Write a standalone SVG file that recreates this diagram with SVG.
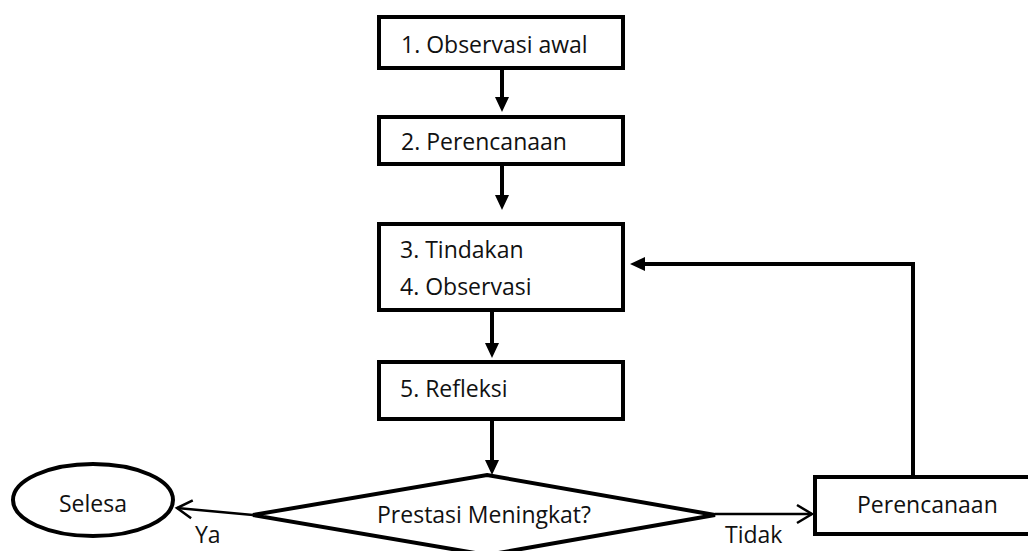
<svg xmlns="http://www.w3.org/2000/svg" width="1028" height="551" viewBox="0 0 1028 551">
<style>
.box{fill:#fff;stroke:#000;stroke-width:4}
.t{font-family:"Open Sans","Noto Sans",sans-serif;font-size:23px;fill:#111}
.c{fill:none;stroke:#000;stroke-width:4}
.o{fill:none;stroke:#000;stroke-width:2.5}
</style>
<defs>
<marker id="fa" markerUnits="userSpaceOnUse" viewBox="0 0 15 14" refX="0" refY="7" markerWidth="15" markerHeight="14" orient="auto">
<path d="M0,0 L15,7 L0,14 z" fill="#000"/>
</marker>
<marker id="oa" markerUnits="userSpaceOnUse" viewBox="-2 -2 20 22" refX="15" refY="9" markerWidth="20" markerHeight="22" orient="auto" overflow="visible">
<path d="M0,0 L15,9 L0,18" fill="none" stroke="#000" stroke-width="2.5"/>
</marker>
</defs>
<rect width="1028" height="551" fill="#fff"/>
<g id="connectors">
<line class="c" x1="502" y1="70" x2="502" y2="97" marker-end="url(#fa)"/>
<line class="c" x1="502" y1="166" x2="502" y2="195" marker-end="url(#fa)"/>
<line class="c" x1="492" y1="312" x2="492" y2="343" marker-end="url(#fa)"/>
<line class="c" x1="492" y1="421" x2="492" y2="460" marker-end="url(#fa)"/>
<path class="c" d="M913,475 V264 H645" marker-end="url(#fa)"/>
<line class="o" x1="715" y1="514" x2="812" y2="514" marker-end="url(#oa)"/>
<line class="o" x1="253" y1="515" x2="177" y2="508" marker-end="url(#oa)"/>
</g>
<g id="n1"><rect class="box" x="379" y="17" width="244" height="51"/><text class="t" x="401" y="53">1. Observasi awal</text></g>
<g id="n2"><rect class="box" x="379" y="117" width="244" height="47"/><text class="t" x="401" y="150">2. Perencanaan</text></g>
<g id="n3"><rect class="box" x="379" y="224" width="244" height="86"/><text class="t" x="400" y="258">3. Tindakan</text><text class="t" x="400" y="295">4. Observasi</text></g>
<g id="n5"><rect class="box" x="379" y="362" width="244" height="57"/><text class="t" x="400" y="397">5. Refleksi</text></g>
<g id="decision"><polygon class="box" points="487,475 715,515 487,555 253,515"/><text class="t" x="484" y="523" text-anchor="middle">Prestasi Meningkat?</text></g>
<g id="end"><ellipse class="box" cx="93" cy="500" rx="80" ry="36"/><text class="t" x="93" y="512" text-anchor="middle">Selesa</text></g>
<g id="replan"><rect class="box" x="815" y="477" width="230" height="57"/><text class="t" x="857" y="513">Perencanaan</text></g>
<g id="labels"><text class="t" x="195" y="543">Ya</text><text class="t" x="725" y="543">Tidak</text></g>
</svg>
